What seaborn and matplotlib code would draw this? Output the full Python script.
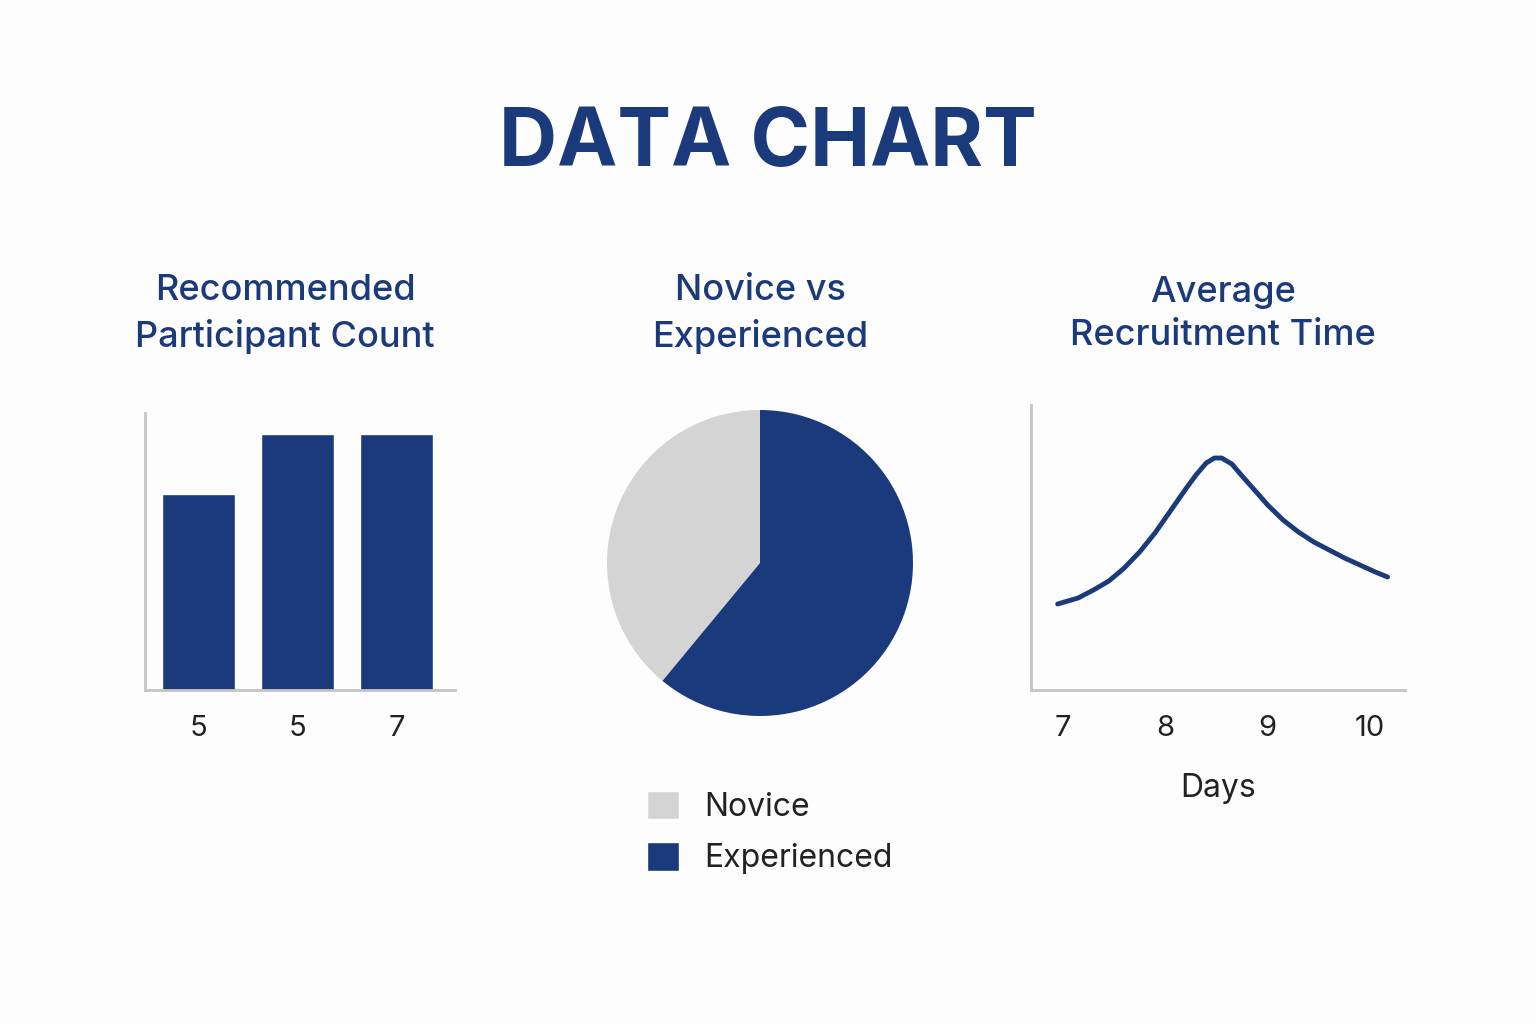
import matplotlib
matplotlib.use("Agg")
import matplotlib.pyplot as plt
import seaborn as sns
import pandas as pd
from matplotlib.patches import Patch

NAVY = "#1b3a7b"
GRAY = "#d4d4d4"
SPINE = "#c4c4c4"

# bar panel
bar_labels = ["5", "5", "7"]
bar_values = [7.65, 10.0, 10.0]

# pie panel
pie_labels = ["Novice", "Experienced"]
pie_values = [39, 61]

# line panel
line_x = [6.95, 7.15, 7.3, 7.45, 7.6, 7.75, 7.9, 8.05, 8.2, 8.3, 8.4, 8.48, 8.55,
          8.65, 8.75, 8.88, 9.0, 9.15, 9.3, 9.45, 9.6, 9.75, 9.9, 10.05, 10.17]
line_y = [86, 92, 100, 109, 122, 138, 157, 179, 201, 215, 227, 232, 232,
          226, 214, 199, 185, 170, 158, 148, 140, 132, 125, 118, 113]
line_ticks = [7, 8, 9, 10]

sns.set_style("white")
plt.rcParams["font.family"] = "Inter"

fig = plt.figure(figsize=(15.36, 10.24), dpi=100, facecolor="#fdfdfd")
W, H = 1536, 1024

def px_axes(x0, y0, x1, y1):
    return fig.add_axes([x0 / W, 1 - y1 / H, (x1 - x0) / W, (y1 - y0) / H])

fig.text(0.5, 1 - 145 / H, "DATA CHART", ha="center", va="center",
         fontsize=58, fontweight="bold", color=NAVY)
for cx, title in [(285, "Recommended\nParticipant Count"),
                  (760, "Novice vs\nExperienced"),
                  (1223, "Average\nRecruitment Time")]:
    fig.text(cx / W, 1 - 314 / H, title, ha="center", va="center",
             fontsize=26, fontweight="medium", color=NAVY, linespacing=1.4)

# bar chart
ax1 = px_axes(145, 413, 455, 690)
ax1.set_facecolor("none")
df = pd.DataFrame({"pos": [0, 1, 2], "v": bar_values})
sns.barplot(data=df, x="pos", y="v", color=NAVY, width=0.74, ax=ax1, saturation=1)
ax1.set_xlim(-0.545, 2.59)
ax1.set_ylim(0, 10.8)
ax1.set_xticks([0, 1, 2])
ax1.set_xticklabels(bar_labels, fontsize=21, color="#222222")
ax1.set_yticks([])
ax1.set_xlabel("")
ax1.set_ylabel("")
ax1.tick_params(axis="x", length=0, pad=18)
for s in ["top", "right"]:
    ax1.spines[s].set_visible(False)
for s in ["left", "bottom"]:
    ax1.spines[s].set_color(SPINE)
    ax1.spines[s].set_linewidth(2)

# pie
ax2 = px_axes(607, 410, 913, 716)
ax2.pie(pie_values, colors=[GRAY, NAVY], startangle=90, counterclock=True,
        wedgeprops={"linewidth": 0})
ax2.set_xlim(-1, 1)
ax2.set_ylim(-1, 1)
ax2.set_aspect("equal")
handles = [Patch(facecolor=GRAY, label=pie_labels[0]),
           Patch(facecolor=NAVY, label=pie_labels[1])]
fig.legend(handles=handles, loc="upper left", bbox_to_anchor=(618 / W, 1 - 762 / H),
           frameon=False, fontsize=23, handlelength=1.0, handleheight=1.0,
           labelspacing=0.6, handletextpad=0.8, labelcolor="#222222")

# line chart
ax3 = px_axes(1031, 405, 1405, 690)
ax3.set_facecolor("none")
sns.lineplot(x=line_x, y=line_y, color=NAVY, linewidth=3.5, ax=ax3,
             solid_joinstyle="round", solid_capstyle="round")
ax3.set_xlim(6.69, 10.34)
ax3.set_ylim(0, 285)
ax3.set_xticks(line_ticks)
ax3.set_xticklabels([str(t) for t in line_ticks], fontsize=21, color="#222222")
ax3.set_yticks([])
ax3.tick_params(axis="x", length=0, pad=18)
ax3.set_xlabel("Days", fontsize=23, color="#222222", labelpad=22)
for s in ["top", "right"]:
    ax3.spines[s].set_visible(False)
for s in ["left", "bottom"]:
    ax3.spines[s].set_color(SPINE)
    ax3.spines[s].set_linewidth(2)

fig.savefig("out.png", dpi=100, facecolor=fig.get_facecolor())
